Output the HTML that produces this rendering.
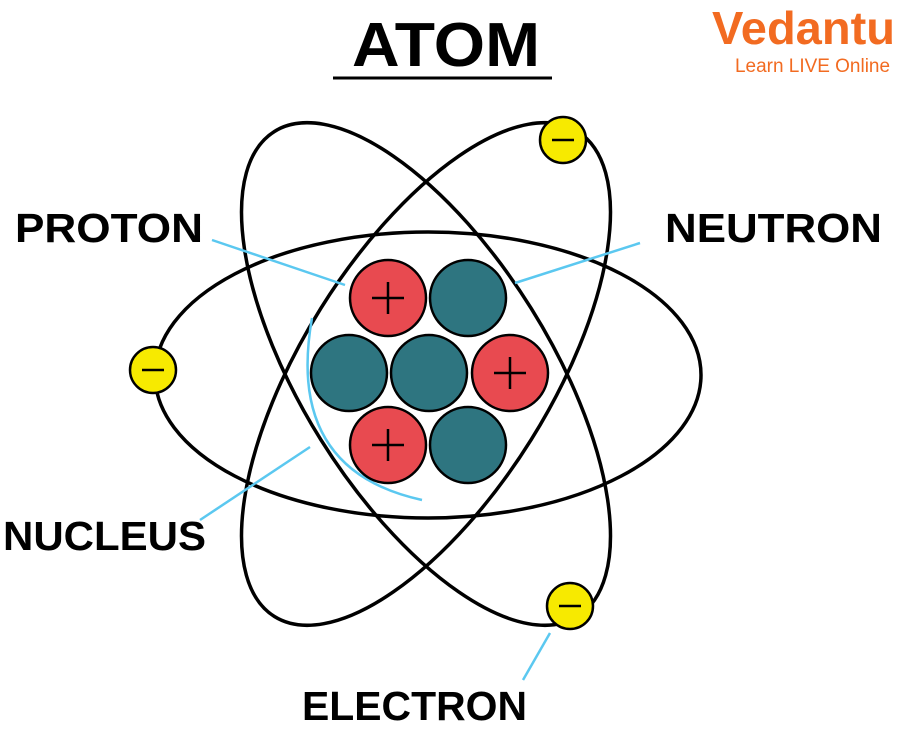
<!DOCTYPE html>
<html><head><meta charset="utf-8"><style>
html,body{margin:0;padding:0;background:#fff;}
body{width:897px;height:732px;overflow:hidden;}
</style></head><body>
<svg width="897" height="732" viewBox="0 0 897 732" xmlns="http://www.w3.org/2000/svg">
<text x="352" y="66" textLength="188" lengthAdjust="spacingAndGlyphs" font-family="Liberation Sans, sans-serif" font-weight="bold" font-size="62">ATOM</text>
<line x1="333" y1="78" x2="552" y2="78" stroke="#000" stroke-width="3"/>
<text x="712" y="44" textLength="183" lengthAdjust="spacingAndGlyphs" font-family="Liberation Sans, sans-serif" font-weight="bold" font-size="46" fill="#f26b21">Vedantu</text>
<text x="735" y="72" textLength="155" lengthAdjust="spacingAndGlyphs" font-family="Liberation Sans, sans-serif" font-size="19" fill="#f26b21">Learn LIVE Online</text>
<g fill="none" stroke="#000" stroke-width="3.5">
<ellipse cx="428" cy="375" rx="273" ry="143"/>
<ellipse cx="426" cy="374" rx="286" ry="124" transform="rotate(58 426 374)"/>
<ellipse cx="426" cy="374" rx="286" ry="124" transform="rotate(-58 426 374)"/>
</g>
<g stroke="#5bc8f0" stroke-width="2.5" fill="none">
<line x1="212" y1="240" x2="345" y2="285"/>
<line x1="640" y1="243" x2="515" y2="283"/>
<line x1="200" y1="520" x2="310" y2="447"/>
<line x1="523" y1="680" x2="550" y2="633"/>
<path d="M312 318 Q285 470 422 500"/>
</g>
<g stroke="#000" stroke-width="2.5">
<circle cx="388" cy="298" r="38" fill="#e84a50"/>
<circle cx="468" cy="298" r="38" fill="#2e7580"/>
<circle cx="349" cy="373" r="38" fill="#2e7580"/>
<circle cx="429" cy="373" r="38" fill="#2e7580"/>
<circle cx="510" cy="373" r="38" fill="#e84a50"/>
<circle cx="388" cy="445" r="38" fill="#e84a50"/>
<circle cx="468" cy="445" r="38" fill="#2e7580"/>
<path d="M372 298h32M388 282v32M494 373h32M510 357v32M372 445h32M388 429v32" fill="none"/>
<circle cx="563" cy="140" r="23" fill="#f7ea00"/>
<circle cx="153" cy="370" r="23" fill="#f7ea00"/>
<circle cx="570" cy="606" r="23" fill="#f7ea00"/>
<path d="M552 140h22M142 370h22M559 606h22" fill="none"/>
</g>
<g font-family="Liberation Sans, sans-serif" font-weight="bold" font-size="41">
<text x="15" y="242" textLength="188" lengthAdjust="spacingAndGlyphs">PROTON</text>
<text x="665" y="242" textLength="217" lengthAdjust="spacingAndGlyphs">NEUTRON</text>
<text x="3" y="550" textLength="203" lengthAdjust="spacingAndGlyphs">NUCLEUS</text>
<text x="302" y="720" textLength="225" lengthAdjust="spacingAndGlyphs">ELECTRON</text>
</g>
</svg>
</body></html>
